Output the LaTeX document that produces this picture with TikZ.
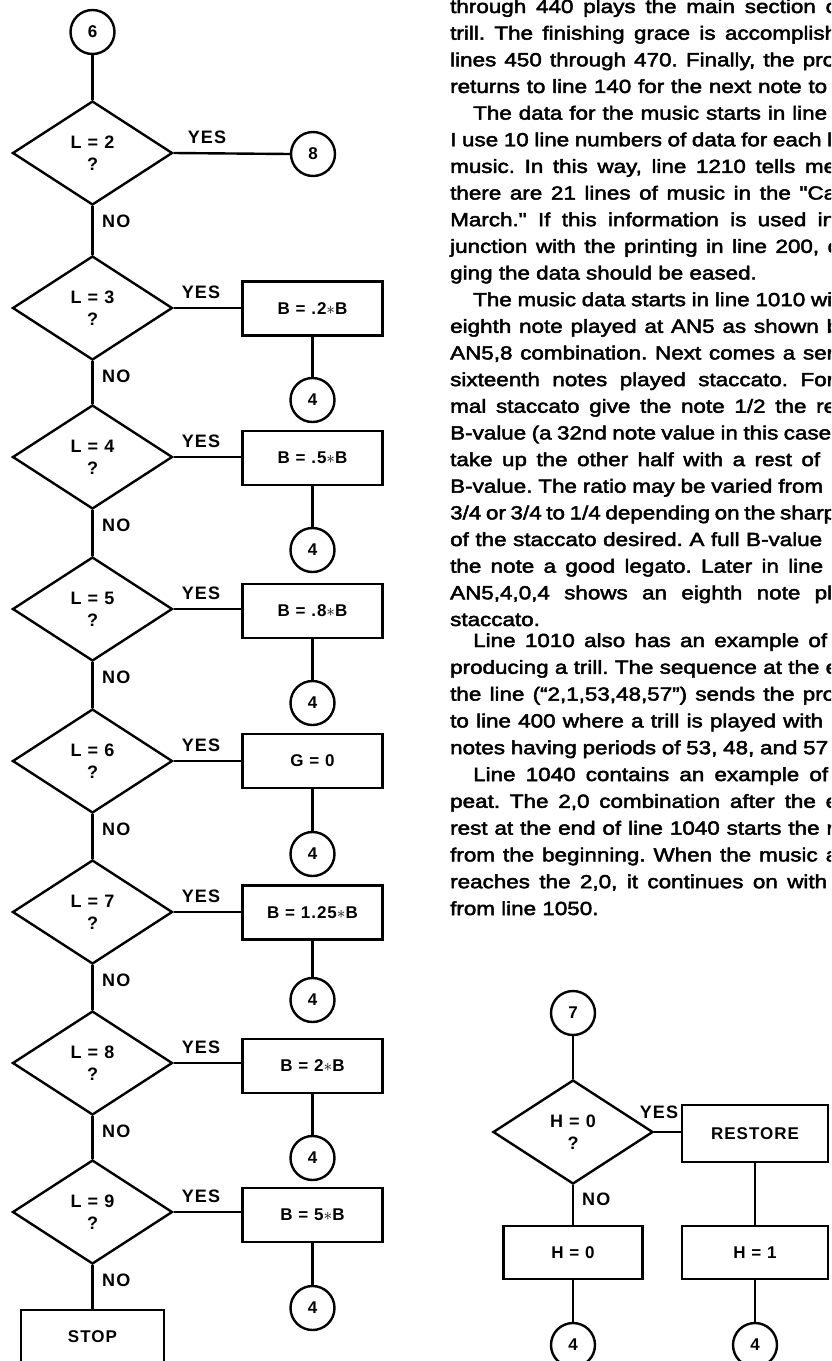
\documentclass[tikz,border=0pt]{standalone}
\usepackage{fontspec}
\usetikzlibrary{shapes.geometric}
\newfontfamily\lblfont[LetterSpace=6]{Liberation Sans}
\newfontfamily\txtfont[FakeStretch=1.18,FakeBold=2.5]{Liberation Sans}
\newcommand\jline[2]{\makebox[#1pt][s]{#2}}
\frenchspacing
\begin{document}
\begin{tikzpicture}[x=1pt,y=-1pt,
  wire/.style={line width=2.4pt},
  dec/.style={diamond, draw, line width=2.4pt, minimum width=160pt, minimum height=104pt,
    inner sep=0pt, align=center, font=\lblfont\bfseries\fontsize{18}{22}\selectfont},
  proc/.style={rectangle, draw, line width=2.4pt, minimum width=140pt, minimum height=54pt,
    inner sep=0pt, font=\lblfont\bfseries\fontsize{17}{20}\selectfont},
  conn/.style={circle, draw, line width=2.4pt, minimum size=44pt, inner sep=0pt,
    font=\lblfont\bfseries\fontsize{17}{20}\selectfont},
  yn/.style={inner sep=0pt, font=\lblfont\bfseries\fontsize{18}{21}\selectfont},
  textline/.style={anchor=base west, inner sep=0pt, font=\txtfont\fontsize{19}{22}\selectfont}]
\useasboundingbox (0,0) rectangle (831,1361);
\clip (0,0) rectangle (831,1361);

% ---------- left flowchart ----------
\node[conn] (c6) at (92.5,32) {6};
\node[dec] (d2) at (92.5,153) {L = 2\\?};
\node[conn] (c8) at (313,154) {8};
\node[dec] (d3) at (92.5,308) {L = 3\\?};
\node[proc] (b3) at (312.5,308.5) {B = .2$\ast$B};
\node[conn] (k3) at (312.5,400) {4};
\node[dec] (d4) at (92.5,457) {L = 4\\?};
\node[proc] (b4) at (312.5,458) {B = .5$\ast$B};
\node[conn] (k4) at (312.5,550) {4};
\node[dec] (d5) at (92.5,609) {L = 5\\?};
\node[proc] (b5) at (312.5,611) {B = .8$\ast$B};
\node[conn] (k5) at (312.5,703) {4};
\node[dec] (d6) at (92.5,761) {L = 6\\?};
\node[proc] (b6) at (312.5,761) {G = 0};
\node[conn] (k6) at (312.5,854) {4};
\node[dec] (d7) at (92.5,912) {L = 7\\?};
\node[proc] (b7) at (312.5,912.5) {B = 1.25$\ast$B};
\node[conn] (k7) at (312.5,1000) {4};
\node[dec] (d8) at (92.5,1063) {L = 8\\?};
\node[proc] (b8) at (312.5,1066) {B = 2$\ast$B};
\node[conn] (k8) at (312.5,1158) {4};
\node[dec] (d9) at (92.5,1212) {L = 9\\?};
\node[proc] (b9) at (312.5,1215) {B = 5$\ast$B};
\node[conn] (k9) at (312.5,1308) {4};
\node[proc, minimum width=143pt] (stop) at (92.5,1337) {STOP};

\draw[wire] (c6) -- (d2.north);
\draw[wire] (d2.east) -- (c8.west);
\foreach \a/\b in {d2/d3,d3/d4,d4/d5,d5/d6,d6/d7,d7/d8,d8/d9,d9/stop}
  \draw[wire] (\a.south) -- (\b.north);
\foreach \n in {3,...,9}{
  \draw[wire] (d\n.east) -- (d\n.east -| b\n.west);
  \draw[wire] (b\n.south) -- (k\n.north);
}

\node[yn] (y2) at (207,137.5) {YES};
\node[yn] (y3) at (201,292.5) {YES};
\node[yn] (y4) at (201,441.5) {YES};
\node[yn] (y5) at (201,593.5) {YES};
\node[yn] (y6) at (201,745.5) {YES};
\node[yn] (y7) at (201,896.5) {YES};
\node[yn] (y8) at (201,1047.5) {YES};
\node[yn] (y9) at (201,1196.5) {YES};
\node[yn, anchor=west] (n2) at (102,221.5) {NO};
\node[yn, anchor=west] (n3) at (102,376.5) {NO};
\node[yn, anchor=west] (n4) at (102,525.5) {NO};
\node[yn, anchor=west] (n5) at (102,677.5) {NO};
\node[yn, anchor=west] (n6) at (102,829.5) {NO};
\node[yn, anchor=west] (n7) at (102,980.5) {NO};
\node[yn, anchor=west] (n8) at (102,1131.5) {NO};
\node[yn, anchor=west] (n9) at (102,1280.5) {NO};

% ---------- right flowchart ----------
\node[conn] (c7) at (573,1013) {7};
\node[dec] (dh) at (573,1132) {H = 0\\?};
\node[proc, minimum width=146pt, minimum height=57pt] (rs) at (755,1133.5) {RESTORE};
\node[proc, minimum width=139pt, minimum height=53pt] (h0) at (573,1252.5) {H = 0};
\node[proc, minimum width=146pt, minimum height=53pt] (h1) at (755,1252.5) {H = 1};
\node[conn] (e0) at (573,1345) {4};
\node[conn] (e1) at (755,1345) {4};
\draw[wire] (c7) -- (dh.north);
\draw[wire] (dh.east) -- (dh.east -| rs.west);
\draw[wire] (dh.south) -- (h0.north);
\draw[wire] (rs.south) -- (h1.north);
\draw[wire] (h0.south) -- (e0.north);
\draw[wire] (h1.south) -- (e1.north);
\node[yn] (yh) at (659,1112) {YES};
\node[yn, anchor=west] (nh) at (582,1199) {NO};

% ---------- text column ----------
\node[textline] (t1) at (450,13) {\jline{388}{through 440 plays the main section o}};
\node[textline] (t2) at (450,39.65) {\jline{387}{trill. The finishing grace is accomplish}};
\node[textline] (t3) at (450,66.3) {\jline{385}{lines 450 through 470. Finally, the pro}};
\node[textline] (t4) at (450,92.95) {\jline{377}{returns to line 140 for the next note to}};
\node[textline] (t5) at (473,119.6) {\jline{354}{The data for the music starts in line}};
\node[textline] (t6) at (450,146.25) {\jline{382}{I use 10 line numbers of data for each l}};
\node[textline] (t7) at (450,172.9) {\jline{386}{music. In this way, line 1210 tells me}};
\node[textline] (t8) at (450,199.55) {\jline{386}{there are 21 lines of music in the "Ca}};
\node[textline] (t9) at (450,226.2) {\jline{385}{March." If this information is used in}};
\node[textline] (t10) at (450,252.85) {\jline{390}{junction with the printing in line 200, d}};
\node[textline] (t11) at (450,279.5) {ging the data should be eased.};
\node[textline] (t12) at (473,306.15) {\jline{359}{The music data starts in line 1010 wi}};
\node[textline] (t13) at (450,332.8) {\jline{389}{eighth note played at AN5 as shown b}};
\node[textline] (t14) at (450,359.45) {\jline{384}{AN5,8 combination. Next comes a ser}};
\node[textline] (t15) at (450,386.1) {\jline{384}{sixteenth notes played staccato. For}};
\node[textline] (t16) at (450,412.75) {\jline{386}{mal staccato give the note 1/2 the re}};
\node[textline] (t17) at (450,439.4) {\jline{381}{B-value (a 32nd note value in this case}};
\node[textline] (t18) at (450,466.05) {\jline{370}{take up the other half with a rest of}};
\node[textline] (t19) at (450,492.7) {\jline{373}{B-value. The ratio may be varied from}};
\node[textline] (t20) at (450,519.35) {\jline{386}{3/4 or 3/4 to 1/4 depending on the sharp}};
\node[textline] (t21) at (450,546) {\jline{372}{of the staccato desired. A full B-value}};
\node[textline] (t22) at (450,572.65) {\jline{373}{the note a good legato. Later in line}};
\node[textline] (t23) at (450,599.3) {\jline{382}{AN5,4,0,4 shows an eighth note pl}};
\node[textline] (t24) at (450,626) {staccato.};
\node[textline] (t25) at (473,647) {\jline{354}{Line 1010 also has an example of}};
\node[textline] (t26) at (450,673.8) {\jline{388}{producing a trill. The sequence at the e}};
\node[textline] (t27) at (450,700.6) {\jline{385}{the line (“2,1,53,48,57”) sends the pro}};
\node[textline] (t28) at (450,727.4) {\jline{373}{to line 400 where a trill is played with}};
\node[textline] (t29) at (450,754.2) {\jline{378}{notes having periods of 53, 48, and 57}};
\node[textline] (t30) at (473,781) {\jline{355}{Line 1040 contains an example of}};
\node[textline] (t31) at (450,807.8) {\jline{388}{peat. The 2,0 combination after the e}};
\node[textline] (t32) at (450,834.6) {\jline{395}{rest at the end of line 1040 starts the m}};
\node[textline] (t33) at (450,861.4) {\jline{388}{from the beginning. When the music a}};
\node[textline] (t34) at (450,888.2) {\jline{377}{reaches the 2,0, it continues on with}};
\node[textline] (t35) at (450,915) {from line 1050.};
\end{tikzpicture}
\end{document}
